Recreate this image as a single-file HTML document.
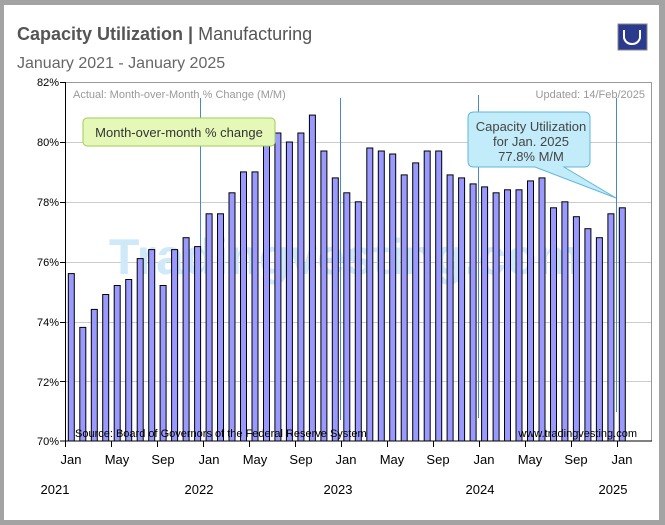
<!DOCTYPE html>
<html><head><style>
html,body{margin:0;padding:0;background:#fff;width:665px;height:525px;overflow:hidden;}
svg{display:block;font-family:"Liberation Sans",sans-serif;}
</style></head><body>
<svg width="665" height="525" viewBox="0 0 665 525" xmlns="http://www.w3.org/2000/svg">
<rect x="0" y="0" width="665" height="525" fill="#a3a3a3"/>
<rect x="4" y="5" width="655" height="515" fill="#fff"/>
<text x="17" y="40" font-size="18" font-weight="bold" fill="#555">Capacity Utilization | <tspan font-weight="normal">Manufacturing</tspan></text>
<text x="17" y="68" font-size="16" fill="#666">January 2021 - January 2025</text>
<rect x="618" y="24" width="29" height="26" fill="#2b3a8c" stroke="#888" stroke-width="1"/>
<path d="M624 30 v8 q2 6 8 6 q6 0 8 -6 v-8" stroke="#fff" stroke-width="2" fill="none"/>
<g stroke="#ccc" stroke-width="1">
<line x1="65" y1="142.5" x2="651" y2="142.5"/><line x1="65" y1="202.5" x2="651" y2="202.5"/>
<line x1="65" y1="262.5" x2="651" y2="262.5"/><line x1="65" y1="322.5" x2="651" y2="322.5"/>
<line x1="65" y1="381.5" x2="651" y2="381.5"/>
</g>
<text x="345" y="274" font-size="50" font-weight="bold" fill="#cfe9f9" text-anchor="middle">Tradingvesting.com</text>
<rect x="65.5" y="82.5" width="586" height="358.5" fill="none" stroke="#999"/>
<g font-size="11" fill="#000" text-anchor="end">
<text x="59" y="86">82%</text><text x="59" y="146">80%</text><text x="59" y="206">78%</text>
<text x="59" y="266">76%</text><text x="59" y="326">74%</text><text x="59" y="386">72%</text><text x="59" y="445">70%</text>
</g>
<g stroke="#4a86c8" stroke-width="1">
<line x1="200.5" y1="98" x2="200.5" y2="420"/><line x1="340.5" y1="98" x2="340.5" y2="420"/>
<line x1="478.5" y1="95" x2="478.5" y2="418"/><line x1="616.5" y1="98" x2="616.5" y2="412"/>
</g>
<g fill="#9999ff" stroke="#000" stroke-width="1">
<rect x="68.3" y="273.6" width="6" height="167.4"/>
<rect x="79.8" y="327.4" width="6" height="113.6"/>
<rect x="91.3" y="309.4" width="6" height="131.6"/>
<rect x="102.7" y="294.5" width="6" height="146.5"/>
<rect x="114.2" y="285.5" width="6" height="155.5"/>
<rect x="125.7" y="279.5" width="6" height="161.5"/>
<rect x="137.2" y="258.6" width="6" height="182.4"/>
<rect x="148.7" y="249.6" width="6" height="191.4"/>
<rect x="160.1" y="285.5" width="6" height="155.5"/>
<rect x="171.6" y="249.6" width="6" height="191.4"/>
<rect x="183.1" y="237.7" width="6" height="203.3"/>
<rect x="194.6" y="246.6" width="6" height="194.4"/>
<rect x="206.1" y="213.8" width="6" height="227.2"/>
<rect x="217.5" y="213.8" width="6" height="227.2"/>
<rect x="229.0" y="192.8" width="6" height="248.2"/>
<rect x="240.5" y="171.9" width="6" height="269.1"/>
<rect x="252.0" y="171.9" width="6" height="269.1"/>
<rect x="263.5" y="133" width="6" height="308"/>
<rect x="274.9" y="133" width="6" height="308"/>
<rect x="286.4" y="142" width="6" height="299"/>
<rect x="297.9" y="133" width="6" height="308"/>
<rect x="309.4" y="115.1" width="6" height="325.9"/>
<rect x="320.9" y="151" width="6" height="290"/>
<rect x="332.3" y="177.9" width="6" height="263.1"/>
<rect x="343.8" y="192.8" width="6" height="248.2"/>
<rect x="355.3" y="201.8" width="6" height="239.2"/>
<rect x="366.8" y="148" width="6" height="293"/>
<rect x="378.3" y="151" width="6" height="290"/>
<rect x="389.7" y="154" width="6" height="287"/>
<rect x="401.2" y="174.9" width="6" height="266.1"/>
<rect x="412.7" y="162.9" width="6" height="278.1"/>
<rect x="424.2" y="151" width="6" height="290"/>
<rect x="435.7" y="151" width="6" height="290"/>
<rect x="447.1" y="174.9" width="6" height="266.1"/>
<rect x="458.6" y="177.9" width="6" height="263.1"/>
<rect x="470.1" y="183.9" width="6" height="257.1"/>
<rect x="481.6" y="186.9" width="6" height="254.1"/>
<rect x="493.1" y="192.8" width="6" height="248.2"/>
<rect x="504.5" y="189.8" width="6" height="251.2"/>
<rect x="516.0" y="189.8" width="6" height="251.2"/>
<rect x="527.5" y="180.9" width="6" height="260.1"/>
<rect x="539.0" y="177.9" width="6" height="263.1"/>
<rect x="550.5" y="207.8" width="6" height="233.2"/>
<rect x="561.9" y="201.8" width="6" height="239.2"/>
<rect x="573.4" y="216.7" width="6" height="224.3"/>
<rect x="584.9" y="228.7" width="6" height="212.3"/>
<rect x="596.4" y="237.7" width="6" height="203.3"/>
<rect x="607.9" y="213.8" width="6" height="227.2"/>
<rect x="619.3" y="207.8" width="6" height="233.2"/>
</g>
<g stroke="#000" stroke-width="1">
<line x1="60" y1="82.5" x2="65" y2="82.5"/><line x1="60" y1="142.5" x2="65" y2="142.5"/><line x1="60" y1="202.5" x2="65" y2="202.5"/><line x1="60" y1="262.5" x2="65" y2="262.5"/><line x1="60" y1="322.5" x2="65" y2="322.5"/><line x1="60" y1="381.5" x2="65" y2="381.5"/>
<line x1="60" y1="441" x2="652" y2="441"/>
<line x1="65.5" y1="82" x2="65.5" y2="447"/>
<line x1="111.5" y1="441" x2="111.5" y2="447"/><line x1="157.5" y1="441" x2="157.5" y2="447"/><line x1="203.5" y1="441" x2="203.5" y2="447"/>
<line x1="249.5" y1="441" x2="249.5" y2="447"/><line x1="295.5" y1="441" x2="295.5" y2="447"/><line x1="341.5" y1="441" x2="341.5" y2="447"/>
<line x1="387.5" y1="441" x2="387.5" y2="447"/><line x1="433.5" y1="441" x2="433.5" y2="447"/><line x1="479.5" y1="441" x2="479.5" y2="447"/>
<line x1="525.5" y1="441" x2="525.5" y2="447"/><line x1="571.5" y1="441" x2="571.5" y2="447"/><line x1="617.5" y1="441" x2="617.5" y2="447"/>
</g>
<text x="73" y="98" font-size="11" fill="#999">Actual: Month-over-Month % Change (M/M)</text>
<text x="645" y="98" font-size="11" fill="#999" text-anchor="end">Updated: 14/Feb/2025</text>
<rect x="83" y="118" width="192" height="28" rx="4" fill="#e6f8b8" stroke="#9fcc55"/>
<text x="179" y="137" font-size="13" fill="#333" text-anchor="middle">Month-over-month % change</text>
<path d="M474 112 h110 q6 0 6 6 v43 q0 6 -6 6 h-20 L616 198 L535 167 h-61 q-6 0 -6 -6 v-43 q0 -6 6 -6 z" fill="#c3ecfa" stroke="#5fb8d8"/>
<text x="531" y="131" font-size="13" fill="#444" text-anchor="middle">Capacity Utilization</text>
<text x="531" y="146" font-size="13" fill="#444" text-anchor="middle">for Jan. 2025</text>
<text x="531" y="161" font-size="13" fill="#444" text-anchor="middle">77.8% M/M</text>
<text x="75" y="437" font-size="11" fill="#000">Source: Board of Governors of the Federal Reserve System</text>
<text x="637" y="437" font-size="11" fill="#000" text-anchor="end">www.tradingvesting.com</text>
<g font-size="13" fill="#000" text-anchor="middle">
<text x="71" y="464">Jan</text><text x="117" y="464">May</text><text x="163" y="464">Sep</text>
<text x="209" y="464">Jan</text><text x="255" y="464">May</text><text x="301" y="464">Sep</text>
<text x="346" y="464">Jan</text><text x="392" y="464">May</text><text x="438" y="464">Sep</text>
<text x="484" y="464">Jan</text><text x="530" y="464">May</text><text x="576" y="464">Sep</text>
<text x="622" y="464">Jan</text>
<text x="55" y="494">2021</text><text x="199" y="494">2022</text><text x="338" y="494">2023</text><text x="480" y="494">2024</text><text x="613" y="494">2025</text>
</g>
</svg>
</body></html>
